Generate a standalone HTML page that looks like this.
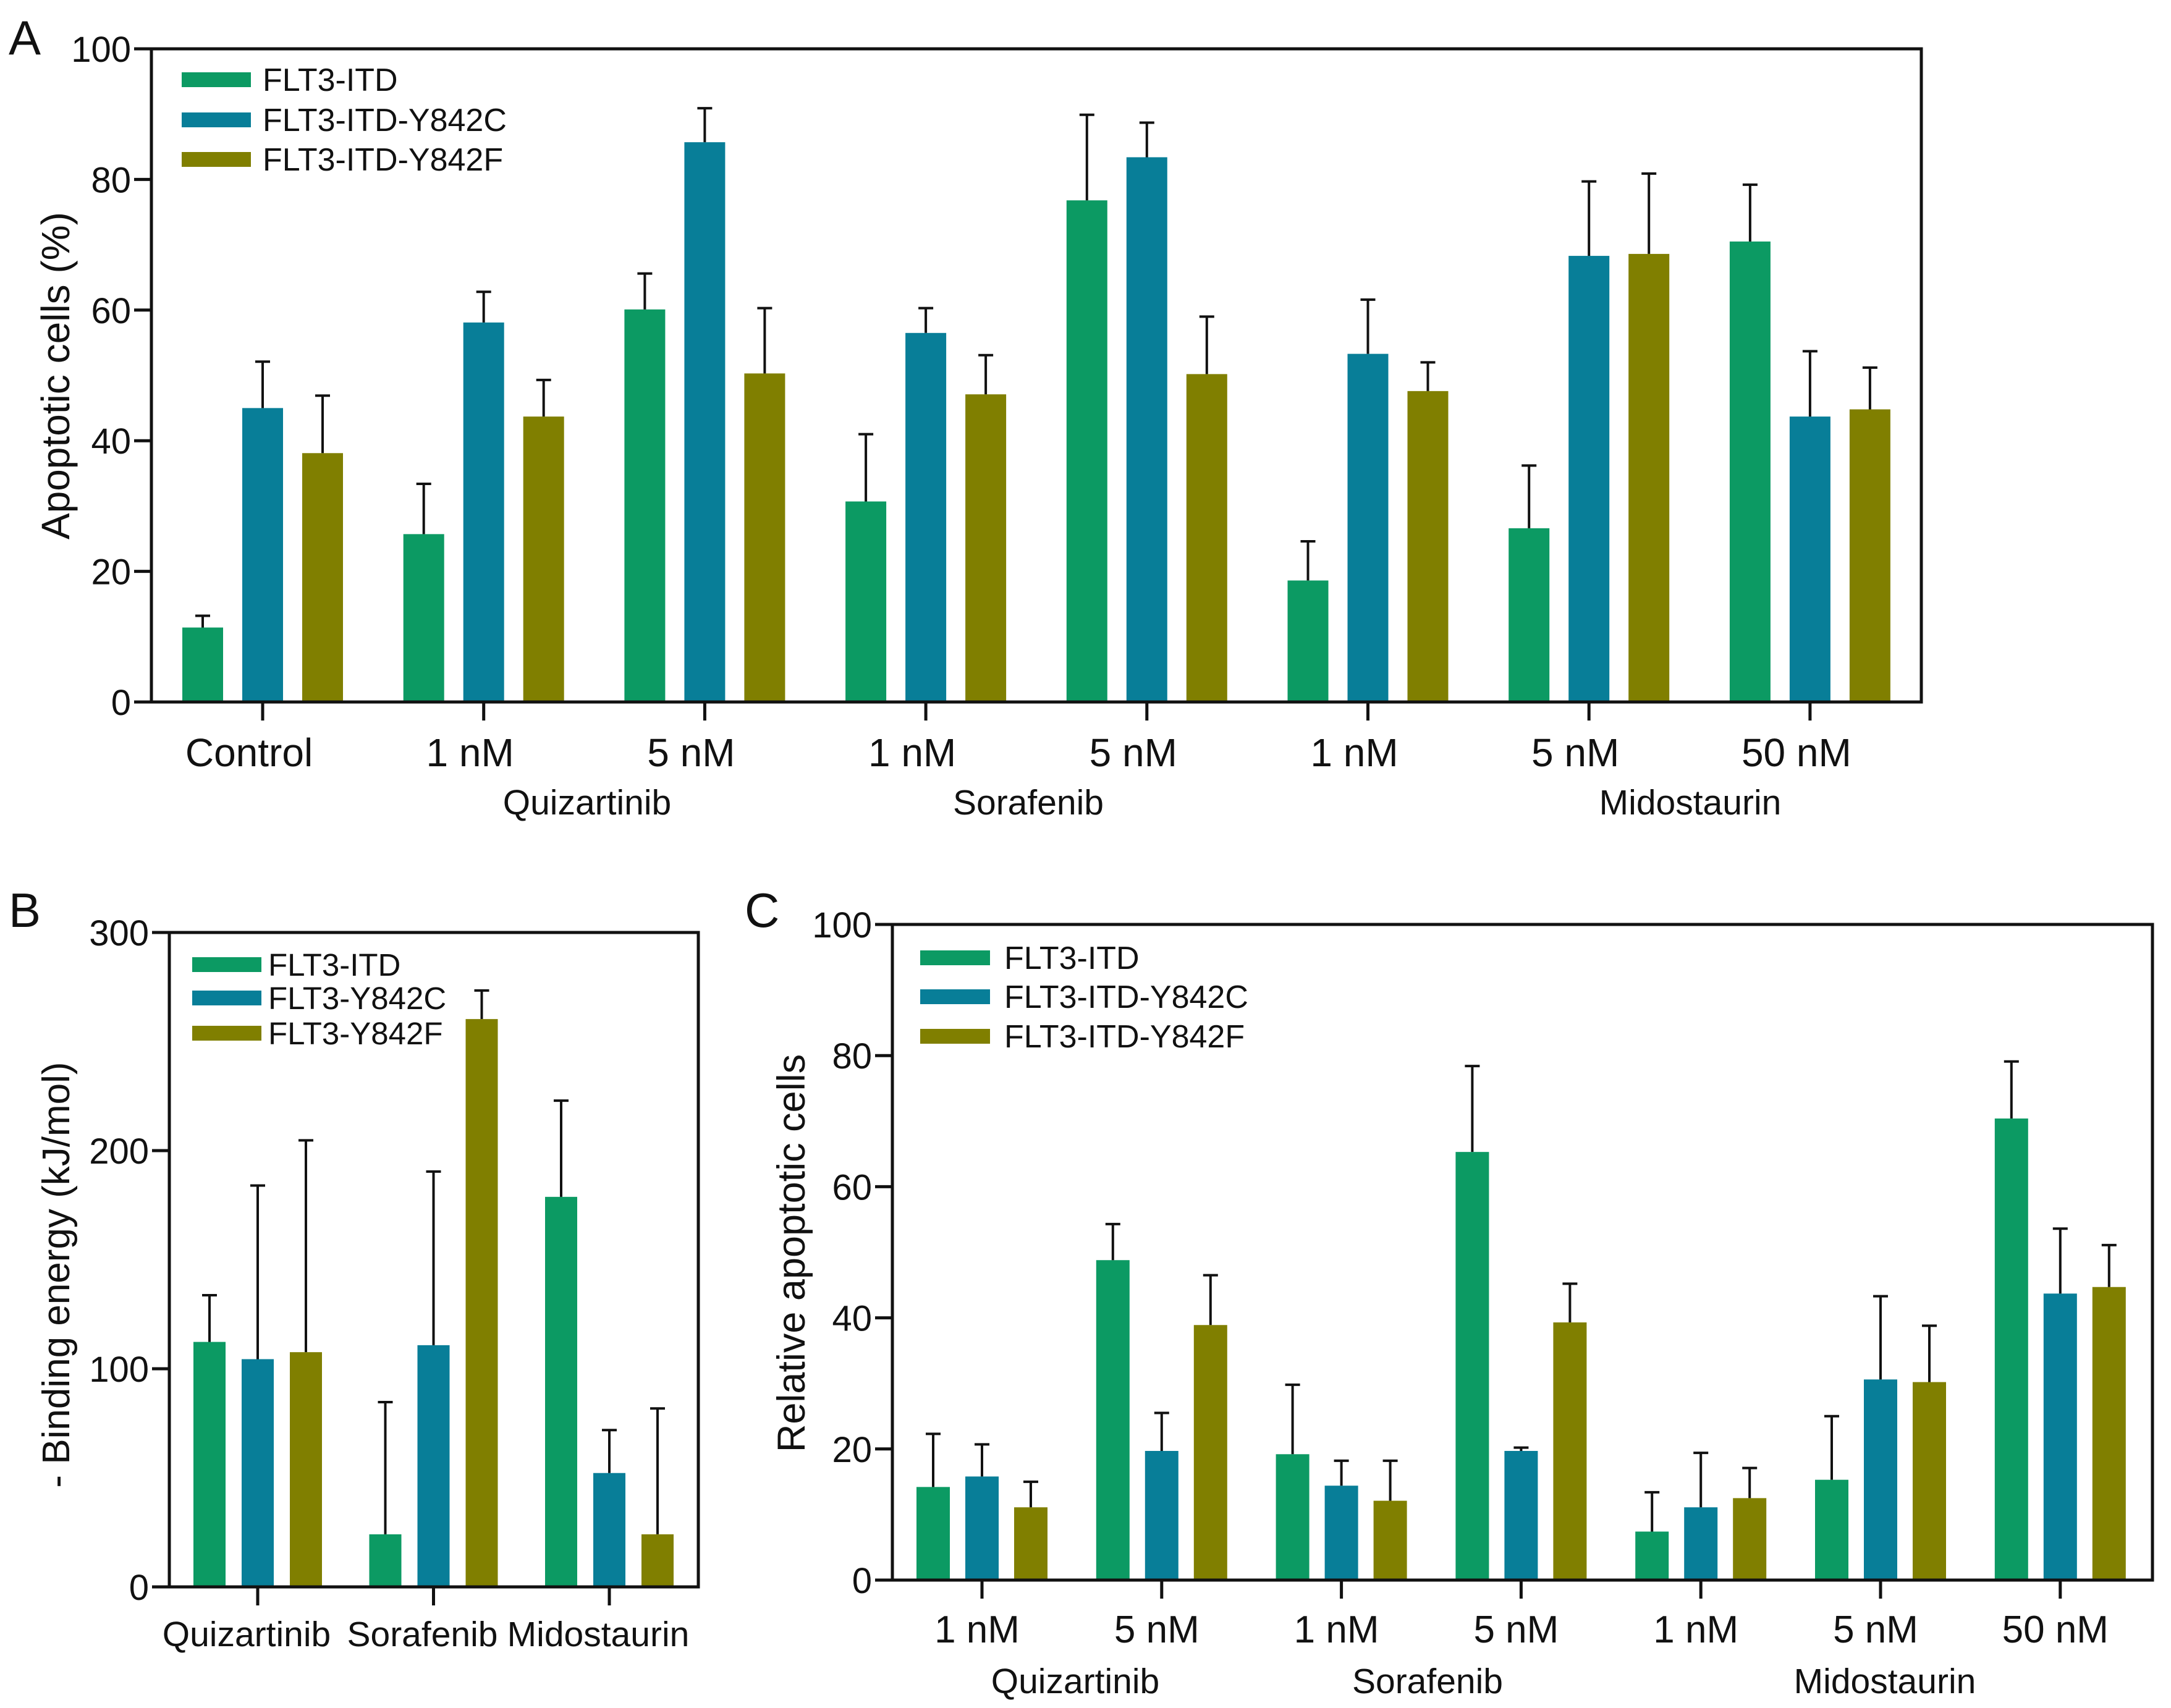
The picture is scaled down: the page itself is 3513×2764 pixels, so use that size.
<!DOCTYPE html>
<html><head><meta charset="utf-8"><style>html,body{margin:0;padding:0;background:#fff}svg{display:block}text{font-family:"Liberation Sans",Arial,sans-serif;fill:#111}</style></head>
<body>
<svg id="fig" xmlns="http://www.w3.org/2000/svg" width="3513" height="2764" viewBox="0 0 3513 2764"></svg>
<script>
const colors = ["#0c9a63", "#087e98", "#807f00"];
// Panel A
const aCategories = ["Control", "1 nM", "5 nM", "1 nM", "5 nM", "1 nM", "5 nM", "50 nM"];
const aSeriesNames = ["FLT3-ITD", "FLT3-ITD-Y842C", "FLT3-ITD-Y842F"];
const aItd = [11.4, 25.7, 60.1, 30.7, 76.8, 18.6, 26.6, 70.5];
const aItdErr = [13.2, 33.4, 65.6, 41.0, 89.9, 24.6, 36.2, 79.2];
const aY842C = [45.0, 58.1, 85.7, 56.5, 83.4, 53.3, 68.3, 43.7];
const aY842CErr = [52.1, 62.8, 90.9, 60.3, 88.7, 61.6, 79.7, 53.7];
const aY842F = [38.1, 43.7, 50.3, 47.1, 50.2, 47.6, 68.6, 44.8];
const aY842FErr = [46.9, 49.3, 60.3, 53.1, 59.0, 52.0, 80.9, 51.2];
const aTicks = [0, 20, 40, 60, 80, 100];
// Panel B
const bCategories = ["Quizartinib", "Sorafenib", "Midostaurin"];
const bSeriesNames = ["FLT3-ITD", "FLT3-Y842C", "FLT3-Y842F"];
const bItd = [112.3, 24.1, 178.8];
const bItdErr = [133.7, 84.7, 222.9];
const bY842C = [104.4, 110.8, 52.2];
const bY842CErr = [184.0, 190.4, 71.9];
const bY842F = [107.6, 260.3, 24.1];
const bY842FErr = [204.7, 273.4, 81.8];
const bTicks = [0, 100, 200, 300];
// Panel C
const cCategories = ["1 nM", "5 nM", "1 nM", "5 nM", "1 nM", "5 nM", "50 nM"];
const cSeriesNames = ["FLT3-ITD", "FLT3-ITD-Y842C", "FLT3-ITD-Y842F"];
const cItd = [14.2, 48.8, 19.2, 65.3, 7.4, 15.3, 70.4];
const cItdErr = [22.3, 54.3, 29.8, 78.4, 13.4, 25.0, 79.1];
const cY842C = [15.8, 19.7, 14.4, 19.7, 11.1, 30.6, 43.7];
const cY842CErr = [20.7, 25.5, 18.2, 20.2, 19.4, 43.3, 53.6];
const cY842F = [11.1, 38.9, 12.1, 39.3, 12.5, 30.2, 44.7];
const cY842FErr = [15.0, 46.5, 18.2, 45.2, 17.1, 38.8, 51.1];
const cTicks = [0, 20, 40, 60, 80, 100];

const NS = "http://www.w3.org/2000/svg";
const svg = document.getElementById("fig");
function mk(tag, attrs, parent) {
  const e = document.createElementNS(NS, tag);
  for (const k in attrs) e.setAttribute(k, attrs[k]);
  (parent || svg).appendChild(e);
  return e;
}
function txt(s, x, y, size, anchor, parent, rot) {
  const t = mk("text", {x: x, y: y, "font-size": size, "text-anchor": anchor || "start"}, parent);
  if (rot) t.setAttribute("transform", "rotate(-90 " + x + " " + y + ")");
  t.textContent = s;
  return t;
}

function panel(cfg) {
  const g = mk("g", {});
  
  
  const yS = v => cfg.bottom - (v - 0) / cfg.ymax * (cfg.bottom - cfg.top);
  const xS = i => cfg.x0 + i * cfg.step;
  cfg.series.forEach((vals, s) => {
    vals.forEach((v, i) => {
      const cx = xS(i) + (s - 1) * cfg.off;
      const r = mk("rect", {x: cx - cfg.bw / 2, y: yS(v), width: cfg.bw, height: cfg.bottom - yS(v), fill: colors[s]}, g);
      
      
      const e = cfg.errs[s][i];
      const eb = mk("path", {d: "M" + cx + " " + yS(v) + "V" + yS(e) + "M" + (cx - 12) + " " + yS(e) + "H" + (cx + 12), stroke: "#111", "stroke-width": 4, fill: "none"}, g);
      
      
    });
  });
  const fr = mk("rect", {x: cfg.left, y: cfg.top, width: cfg.right - cfg.left, height: cfg.bottom - cfg.top, fill: "none", stroke: "#111", "stroke-width": 5}, g);
  
  
  cfg.ticks.forEach(t => {
    mk("line", {x1: cfg.left - 28, x2: cfg.left, y1: yS(t), y2: yS(t), stroke: "#111", "stroke-width": 5}, g);
    const l = txt(String(t), cfg.left - 33, yS(t) + 21, 58, "end", g);
    
    
  });
  cfg.cats.forEach((c, i) => {
    mk("line", {x1: xS(i), x2: xS(i), y1: cfg.bottom, y2: cfg.bottom + 30, stroke: "#111", "stroke-width": 5}, g);
    const l = txt(c, xS(i) + (cfg.catShift || 0), cfg.catY, cfg.catSize, "middle", g);
    
    
  });
  cfg.names.forEach((n, s) => {
    const sw = mk("rect", {x: cfg.legX, y: cfg.legY[s] - 12, width: cfg.legW, height: 24, fill: colors[s]}, g);
    
    
    const l = txt(n, cfg.legTX, cfg.legY[s] + 18, cfg.legSize, "start", g);
    
    
  });
  return g;
}

panel({name: "panel-a", key: "a", left: 245, right: 3109, top: 79, bottom: 1136, ymax: 100,
  x0: 425, step: 357.7, off: 97, bw: 66, cats: aCategories, catY: 1240, catSize: 64, catShift: -22,
  series: [aItd, aY842C, aY842F], errs: [aItdErr, aY842CErr, aY842FErr], ticks: aTicks,
  names: aSeriesNames, legX: 294, legW: 112, legTX: 425, legY: [129, 194, 258], legSize: 52});
panel({name: "panel-b", key: "b", left: 274, right: 1130, top: 1509, bottom: 2568, ymax: 300,
  x0: 417, step: 284.5, off: 78, bw: 52, cats: bCategories, catY: 2664, catSize: 57, catShift: -18,
  series: [bItd, bY842C, bY842F], errs: [bItdErr, bY842CErr, bY842FErr], ticks: bTicks,
  names: bSeriesNames, legX: 311, legW: 112, legTX: 434, legY: [1561, 1615, 1672], legSize: 51});
panel({name: "panel-c", key: "c", left: 1444, right: 3483, top: 1496, bottom: 2557, ymax: 100,
  x0: 1589, step: 290.8, off: 79, bw: 54, cats: cCategories, catY: 2658, catSize: 62, catShift: -8,
  series: [cItd, cY842C, cY842F], errs: [cItdErr, cY842CErr, cY842FErr], ticks: cTicks,
  names: cSeriesNames, legX: 1489, legW: 113, legTX: 1625, legY: [1550, 1613, 1677], legSize: 52});

function label(s, x, y, size, anchor, name, rot) {
  const t = txt(s, x, y, size, anchor, svg, rot);
  
  
}
label("A", 14, 88, 78, "start", "panel-a-letter");
label("B", 14, 1500, 78, "start", "panel-b-letter");
label("C", 1205, 1500, 78, "start", "panel-c-letter");
label("Apoptotic cells (%)", 112, 608, 64, "middle", "y-axis-title-a", true);
label("- Binding energy (kJ/mol)", 112, 2063, 62, "middle", "y-axis-title-b", true);
label("Relative apoptotic cells", 1302, 2028, 63, "middle", "y-axis-title-c", true);
label("Quizartinib", 950, 1318, 57, "middle", "group-label-quizartinib-a");
label("Sorafenib", 1664, 1318, 57, "middle", "group-label-sorafenib-a");
label("Midostaurin", 2735, 1318, 57, "middle", "group-label-midostaurin-a");
label("Quizartinib", 1740, 2740, 57, "middle", "group-label-quizartinib-c");
label("Sorafenib", 2310, 2740, 57, "middle", "group-label-sorafenib-c");
label("Midostaurin", 3050, 2740, 57, "middle", "group-label-midostaurin-c");
</script>
</body></html>
